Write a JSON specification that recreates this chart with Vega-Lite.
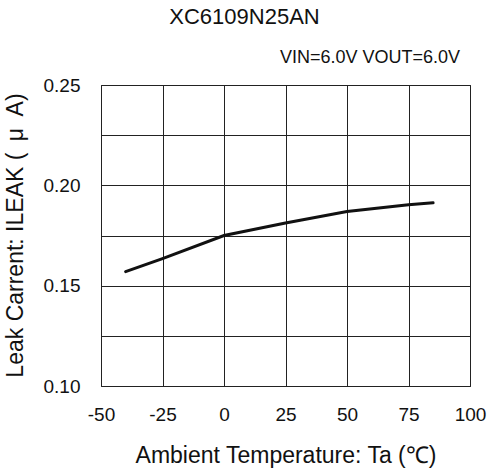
{
  "$schema": "https://vega.github.io/schema/vega-lite/v6.json",
  "width": 369,
  "height": 301,
  "autosize": "none",
  "padding": {"left": 101, "top": 85, "right": 20, "bottom": 89},
  "background": "white",
  "title": {
    "text": "XC6109N25AN",
    "anchor": "middle",
    "frame": "group",
    "dx": -41,
    "offset": 20,
    "font": "Liberation Sans",
    "fontSize": 22,
    "fontWeight": "normal",
    "color": "#111"
  },
  "config": {
    "view": {"stroke": "#111", "strokeWidth": 1},
    "font": "Liberation Sans"
  },
  "layer": [
    {
      "data": {
        "values": [
          {"ta": -40, "ileak": 0.157},
          {"ta": -25, "ileak": 0.1635},
          {"ta": 0, "ileak": 0.175},
          {"ta": 25, "ileak": 0.1812},
          {"ta": 50, "ileak": 0.187},
          {"ta": 75, "ileak": 0.1903},
          {"ta": 85, "ileak": 0.1913}
        ]
      },
      "mark": {"type": "line", "color": "#111", "strokeWidth": 3, "strokeCap": "round"},
      "encoding": {
        "x": {
          "field": "ta",
          "type": "quantitative",
          "scale": {"domain": [-50, 100], "nice": false},
          "axis": {
            "values": [-50, -25, 0, 25, 50, 75, 100],
            "labelExpr": "'' + datum.value",
            "labelFlush": false,
            "labelOverlap": false,
            "title": "Ambient Temperature: Ta (℃)",
            "titleFont": "Liberation Sans",
            "titleFontSize": 23,
            "titleFontWeight": "normal",
            "titleColor": "#111",
            "titleBaseline": "alphabetic",
            "titleY": 76,
            "labelFont": "Liberation Sans",
            "labelFontSize": 19,
            "labelColor": "#111",
            "labelPadding": 19,
            "ticks": false,
            "domain": false,
            "grid": true,
            "gridColor": "#222",
            "gridOpacity": 1,
            "gridWidth": 1
          }
        },
        "y": {
          "field": "ileak",
          "type": "quantitative",
          "scale": {"domain": [0.1, 0.25], "nice": false, "zero": false},
          "axis": {
            "values": [0.1, 0.125, 0.15, 0.175, 0.2, 0.225, 0.25],
            "labelExpr": "round(datum.value*1000) % 50 == 0 ? format(datum.value, '.2f') : ''",
            "labelFlush": false,
            "labelOverlap": false,
            "title": "Leak Carrent: ILEAK (\u2002μ\u2002A)",
            "titleFont": "Liberation Sans",
            "titleFontSize": 23,
            "titleFontWeight": "normal",
            "titleColor": "#111",
            "titleAngle": -90,
            "titleAlign": "center",
            "titleBaseline": "middle",
            "titleX": -86,
            "titleY": 150,
            "labelFont": "Liberation Sans",
            "labelFontSize": 19,
            "labelColor": "#111",
            "labelPadding": 21,
            "ticks": false,
            "domain": false,
            "grid": true,
            "gridColor": "#222",
            "gridOpacity": 1,
            "gridWidth": 1
          }
        }
      }
    },
    {
      "data": {"values": [{"note": "VIN=6.0V VOUT=6.0V"}]},
      "mark": {"type": "text", "align": "right", "baseline": "alphabetic", "dx": -10, "dy": -22, "font": "Liberation Sans", "fontSize": 18, "color": "#111"},
      "encoding": {
        "x": {"datum": 100, "type": "quantitative"},
        "y": {"datum": 0.25, "type": "quantitative"},
        "text": {"field": "note", "type": "nominal"}
      }
    }
  ]
}
